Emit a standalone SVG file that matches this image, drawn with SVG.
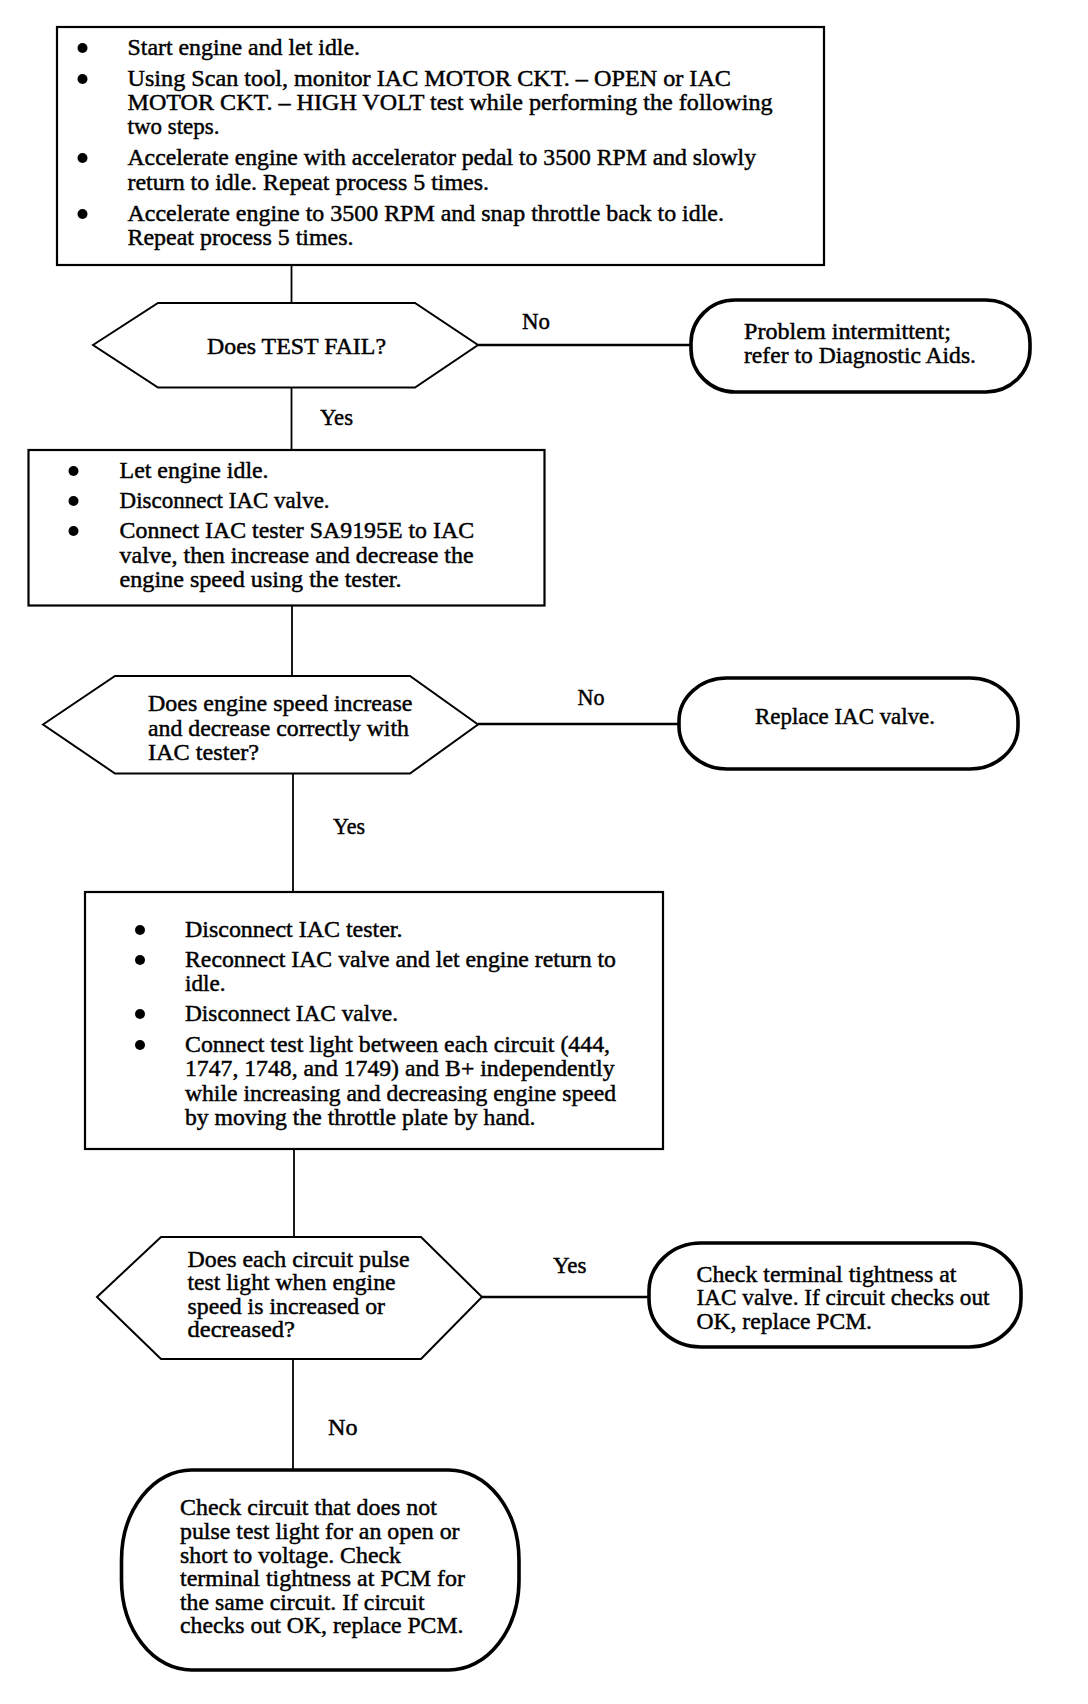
<svg xmlns="http://www.w3.org/2000/svg" width="1088" height="1704" viewBox="0 0 1088 1704">
<style>
text{font-family:"Liberation Serif","Times New Roman",serif;font-size:23px;fill:#000;stroke:#000;stroke-width:0.45;}
.box{fill:#fff;stroke:#000;stroke-width:2.2;}
.hex{fill:#fff;stroke:#000;stroke-width:2;}
.term{fill:#fff;stroke:#000;stroke-width:3.6;}
.v{stroke:#000;stroke-width:1.8;fill:none;}
.h{stroke:#000;stroke-width:2.4;fill:none;}
.dot{fill:#000;}
</style>
<rect width="1088" height="1704" fill="#fff"/>
<g id="connectors">
<line class="v" x1="291.5" y1="265" x2="291.5" y2="303"/>
<line class="v" x1="291.5" y1="387" x2="291.5" y2="450"/>
<line class="h" x1="478" y1="345" x2="691" y2="345"/>
<line class="v" x1="292" y1="605" x2="292" y2="676"/>
<line class="h" x1="478" y1="724" x2="679" y2="724"/>
<line class="v" x1="293" y1="773" x2="293" y2="892"/>
<line class="v" x1="294" y1="1149" x2="294" y2="1237"/>
<line class="h" x1="482" y1="1297" x2="649" y2="1297"/>
<line class="v" x1="293" y1="1359" x2="293" y2="1470"/>
<text x="522" y="329" textLength="28" lengthAdjust="spacingAndGlyphs">No</text>
<text x="320" y="424.5" textLength="33" lengthAdjust="spacingAndGlyphs">Yes</text>
<text x="577.5" y="705" textLength="27" lengthAdjust="spacingAndGlyphs">No</text>
<text x="333" y="834" textLength="32" lengthAdjust="spacingAndGlyphs">Yes</text>
<text x="553" y="1273" textLength="33.5" lengthAdjust="spacingAndGlyphs">Yes</text>
<text x="328" y="1435" textLength="29.5" lengthAdjust="spacingAndGlyphs">No</text>
</g>
<g id="step1">
<rect class="box" x="57" y="27" width="767" height="238"/>
<circle class="dot" cx="82.5" cy="48" r="5"/>
<circle class="dot" cx="82.5" cy="79" r="5"/>
<circle class="dot" cx="82.5" cy="158" r="5"/>
<circle class="dot" cx="82.5" cy="214" r="5"/>
<text x="127.5" y="55" textLength="232.5" lengthAdjust="spacingAndGlyphs">Start engine and let idle.</text>
<text x="127.5" y="86" textLength="603.5" lengthAdjust="spacingAndGlyphs">Using Scan tool, monitor IAC MOTOR CKT. – OPEN or IAC</text>
<text x="127.5" y="110" textLength="645" lengthAdjust="spacingAndGlyphs">MOTOR CKT. – HIGH VOLT test while performing the following</text>
<text x="127.5" y="134" textLength="92" lengthAdjust="spacingAndGlyphs">two steps.</text>
<text x="127.5" y="165" textLength="628.5" lengthAdjust="spacingAndGlyphs">Accelerate engine with accelerator pedal to 3500 RPM and slowly</text>
<text x="127.5" y="190" textLength="361.5" lengthAdjust="spacingAndGlyphs">return to idle. Repeat process 5 times.</text>
<text x="127.5" y="221" textLength="596.5" lengthAdjust="spacingAndGlyphs">Accelerate engine to 3500 RPM and snap throttle back to idle.</text>
<text x="127.5" y="245" textLength="226" lengthAdjust="spacingAndGlyphs">Repeat process 5 times.</text>
</g>
<g id="q1">
<polygon class="hex" points="93,345 158,303 415,303 478,345 415,387.5 158,387.5"/>
<text x="207" y="354" textLength="179" lengthAdjust="spacingAndGlyphs">Does TEST FAIL?</text>
</g>
<g id="r1">
<rect class="term" x="691" y="300" width="339" height="92" rx="44" ry="43"/>
<text x="744" y="339" textLength="207" lengthAdjust="spacingAndGlyphs">Problem intermittent;</text>
<text x="744" y="362.5" textLength="232" lengthAdjust="spacingAndGlyphs">refer to Diagnostic Aids.</text>
</g>
<g id="step2">
<rect class="box" x="28.5" y="450" width="516" height="155.5"/>
<circle class="dot" cx="73.5" cy="471" r="5"/>
<circle class="dot" cx="73.5" cy="501" r="5"/>
<circle class="dot" cx="73.5" cy="531" r="5"/>
<text x="119.6" y="478" textLength="149" lengthAdjust="spacingAndGlyphs">Let engine idle.</text>
<text x="119.6" y="508" textLength="210" lengthAdjust="spacingAndGlyphs">Disconnect IAC valve.</text>
<text x="119.6" y="538" textLength="354.5" lengthAdjust="spacingAndGlyphs">Connect IAC tester SA9195E to IAC</text>
<text x="119.6" y="562.5" textLength="354" lengthAdjust="spacingAndGlyphs">valve, then increase and decrease the</text>
<text x="119.6" y="587" textLength="282" lengthAdjust="spacingAndGlyphs">engine speed using the tester.</text>
</g>
<g id="q2">
<polygon class="hex" points="43,724.5 115,676 410,676 478,724.5 410,773.5 115,773.5"/>
<text x="148" y="711" textLength="264.5" lengthAdjust="spacingAndGlyphs">Does engine speed increase</text>
<text x="148" y="735.5" textLength="261" lengthAdjust="spacingAndGlyphs">and decrease correctly with</text>
<text x="148" y="760" textLength="111" lengthAdjust="spacingAndGlyphs">IAC tester?</text>
</g>
<g id="r2">
<rect class="term" x="679" y="678" width="339" height="91" rx="48" ry="43"/>
<text x="755" y="724" textLength="180" lengthAdjust="spacingAndGlyphs">Replace IAC valve.</text>
</g>
<g id="step3">
<rect class="box" x="85" y="892" width="578" height="257"/>
<circle class="dot" cx="140" cy="930" r="5"/>
<circle class="dot" cx="140" cy="960" r="5"/>
<circle class="dot" cx="140" cy="1014" r="5"/>
<circle class="dot" cx="140" cy="1045" r="5"/>
<text x="185" y="937" textLength="217.5" lengthAdjust="spacingAndGlyphs">Disconnect IAC tester.</text>
<text x="185" y="967" textLength="431" lengthAdjust="spacingAndGlyphs">Reconnect IAC valve and let engine return to</text>
<text x="185" y="991" textLength="40.5" lengthAdjust="spacingAndGlyphs">idle.</text>
<text x="185" y="1021" textLength="213" lengthAdjust="spacingAndGlyphs">Disconnect IAC valve.</text>
<text x="185" y="1052" textLength="425" lengthAdjust="spacingAndGlyphs">Connect test light between each circuit (444,</text>
<text x="185" y="1076" textLength="429.5" lengthAdjust="spacingAndGlyphs">1747, 1748, and 1749) and B+ independently</text>
<text x="185" y="1101" textLength="431" lengthAdjust="spacingAndGlyphs">while increasing and decreasing engine speed</text>
<text x="185" y="1125" textLength="350.5" lengthAdjust="spacingAndGlyphs">by moving the throttle plate by hand.</text>
</g>
<g id="q3">
<polygon class="hex" points="97,1297 161,1237 421,1237 482,1297 421,1359 161,1359"/>
<text x="187.5" y="1266.5" textLength="222" lengthAdjust="spacingAndGlyphs">Does each circuit pulse</text>
<text x="187.5" y="1290" textLength="208" lengthAdjust="spacingAndGlyphs">test light when engine</text>
<text x="187.5" y="1313.5" textLength="197.5" lengthAdjust="spacingAndGlyphs">speed is increased or</text>
<text x="187.5" y="1337" textLength="107.5" lengthAdjust="spacingAndGlyphs">decreased?</text>
</g>
<g id="r3">
<rect class="term" x="649" y="1243" width="372" height="104" rx="52" ry="48"/>
<text x="696.5" y="1281.5" textLength="260" lengthAdjust="spacingAndGlyphs">Check terminal tightness at</text>
<text x="696.5" y="1305" textLength="293" lengthAdjust="spacingAndGlyphs">IAC valve. If circuit checks out</text>
<text x="696.5" y="1328.5" textLength="175.5" lengthAdjust="spacingAndGlyphs">OK, replace PCM.</text>
</g>
<g id="r4">
<rect class="term" x="121.5" y="1470" width="397.5" height="200" rx="70" ry="90"/>
<text x="180" y="1515" textLength="257" lengthAdjust="spacingAndGlyphs">Check circuit that does not</text>
<text x="180" y="1539" textLength="279.5" lengthAdjust="spacingAndGlyphs">pulse test light for an open or</text>
<text x="180" y="1563" textLength="221" lengthAdjust="spacingAndGlyphs">short to voltage. Check</text>
<text x="180" y="1586" textLength="285" lengthAdjust="spacingAndGlyphs">terminal tightness at PCM for</text>
<text x="180" y="1610" textLength="244.5" lengthAdjust="spacingAndGlyphs">the same circuit. If circuit</text>
<text x="180" y="1633" textLength="283.5" lengthAdjust="spacingAndGlyphs">checks out OK, replace PCM.</text>
</g>
</svg>
